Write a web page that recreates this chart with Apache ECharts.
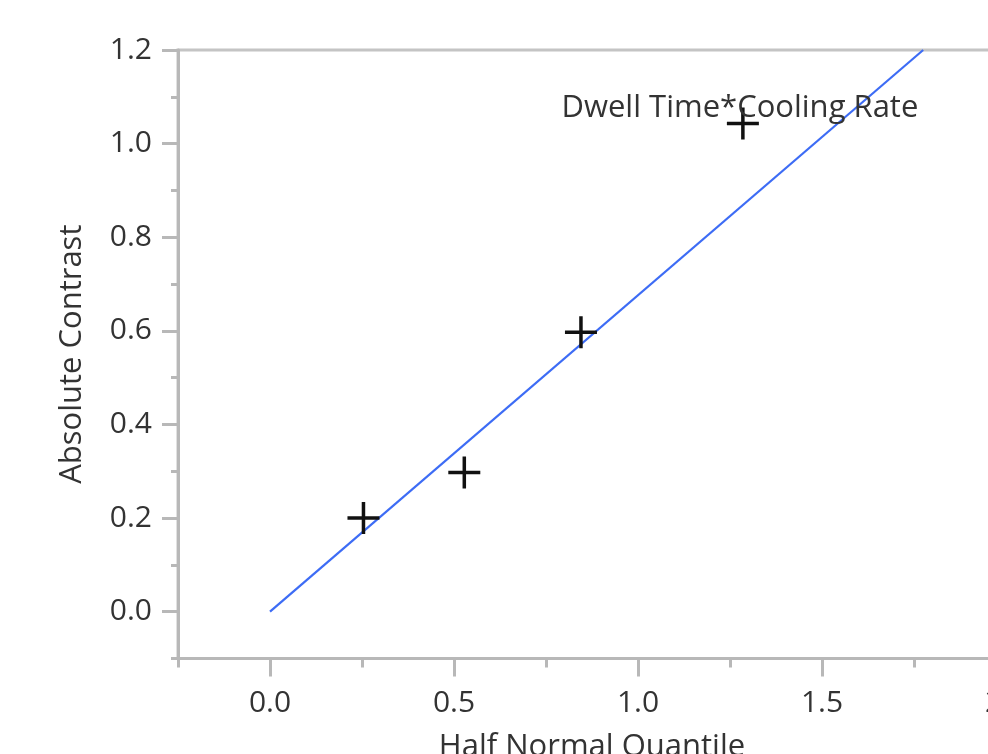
<!DOCTYPE html>
<html>
<head>
<meta charset="utf-8">
<script src="https://cdn.jsdelivr.net/npm/echarts@6/dist/echarts.min.js"></script>
<style>
  html, body { margin: 0; padding: 0; background: #fff; }
  #main { width: 988px; height: 754px; }
</style>
</head>
<body>
<div id="main"></div>
<script>
// half normal plot data
var quantiles = [0.254, 0.528, 0.845, 1.285];
var contrasts = [0.2, 0.297, 0.597, 1.043];
var effectNames = ['', '', '', 'Dwell Time*Cooling Rate'];
// reference line through origin
var lineX = [0, 1.775];
var lineY = [0, 1.2];

var FONT = 'Open Sans';
var TEXT = '#333';
var AXIS = '#b8b8b8';

var chart = echarts.init(document.getElementById('main'), null, { renderer: 'canvas' });

var points = quantiles.map(function (q, i) {
  var item = { value: [q, contrasts[i]] };
  if (effectNames[i]) {
    item.label = {
      show: true,
      formatter: effectNames[i],
      position: 'inside',
      offset: [-3, -15],
      color: TEXT,
      fontFamily: FONT,
      fontSize: 31
    };
  }
  return item;
});

var plus = 'path://M-1.75,-16H1.75V-1.75H16V1.75H1.75V16H-1.75V1.75H-16V-1.75H-1.75Z';

// hidden axis used to complete the helper grids
function dummy(idx) {
  return { type: 'value', gridIndex: idx, show: false, min: 0, max: 1 };
}

var option = {
  animation: false,
  grid: [
    // main plot, minor ticks
    { left: 178, top: 50, width: 828, height: 608.4, show: true, borderColor: '#c4c4c4', borderWidth: 3,
      outerBoundsMode: 'none', containLabel: false },
    // helper grid for the y major ticks: left edge on the plot, 0..1.4
    { left: 178, top: -43.6, width: 100, height: 655.2, outerBoundsMode: 'none', containLabel: false },
    // helper grid for the x major ticks: bottom edge on the plot, 0..2.0
    { left: 270, top: 50, width: 736, height: 608.4, outerBoundsMode: 'none', containLabel: false }
  ],
  xAxis: [{
    type: 'value', gridIndex: 0, min: -0.25, max: 2.0, interval: 0.25,
    name: 'Half Normal Quantile', nameLocation: 'middle', nameGap: 73,
    nameTextStyle: { color: TEXT, fontFamily: FONT, fontSize: 31 },
    axisLine: { show: true, onZero: false, lineStyle: { color: AXIS, width: 3 } },
    axisTick: { show: true, length: 9, lineStyle: { color: AXIS, width: 3 } },
    axisLabel: { show: false },
    splitLine: { show: false }
  }, dummy(1), {
    type: 'value', gridIndex: 2, min: 0, max: 2.0, interval: 0.5,
    axisLine: { show: false, onZero: false },
    axisTick: { show: true, length: 18, lineStyle: { color: AXIS, width: 3 } },
    axisLabel: {
      margin: 30, color: TEXT, fontFamily: FONT, fontSize: 30,
      formatter: function (v) { return v.toFixed(1); }
    },
    splitLine: { show: false }
  }],
  yAxis: [{
    type: 'value', gridIndex: 0, min: -0.1, max: 1.2, interval: 0.1,
    name: 'Absolute Contrast', nameLocation: 'middle', nameGap: 90,
    nameTextStyle: { color: TEXT, fontFamily: FONT, fontSize: 31 },
    axisLine: { show: true, onZero: false, lineStyle: { color: AXIS, width: 3 } },
    axisTick: { show: true, length: 7, lineStyle: { color: AXIS, width: 3 } },
    axisLabel: { show: false },
    splitLine: { show: false }
  }, {
    type: 'value', gridIndex: 1, min: 0, max: 1.4, interval: 0.2,
    axisLine: { show: false, onZero: false },
    axisTick: { show: true, length: 16, lineStyle: { color: AXIS, width: 3 } },
    axisLabel: {
      margin: 26, color: TEXT, fontFamily: FONT, fontSize: 30,
      formatter: function (v) { return v > 1.3 ? '' : v.toFixed(1); }
    },
    splitLine: { show: false }
  }, dummy(2)],
  series: [{
    type: 'line',
    xAxisIndex: 0, yAxisIndex: 0,
    data: lineX.map(function (x, i) { return [x, lineY[i]]; }),
    showSymbol: false,
    symbol: 'none',
    lineStyle: { color: '#3d6cf5', width: 2.2 },
    clip: true,
    z: 2
  }, {
    type: 'scatter',
    xAxisIndex: 0, yAxisIndex: 0,
    data: points,
    symbol: plus,
    symbolSize: 32,
    itemStyle: { color: '#111', opacity: 1 },
    z: 3
  }]
};

chart.setOption(option);
</script>
</body>
</html>
